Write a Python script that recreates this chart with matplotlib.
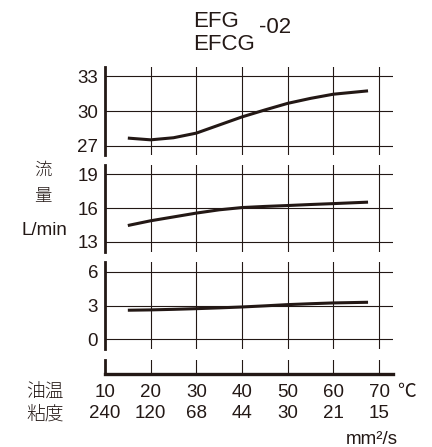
import matplotlib.pyplot as plt
import matplotlib.transforms as mtransforms

# x axis: oil temperature (deg C) and matching viscosity (mm2/s)
temps = [10, 20, 30, 40, 50, 60, 70]
viscosity = ['240', '120', '68', '44', '30', '21', '15']

# flow curves (L/min)
curve_t = [15, 20, 25, 30, 35, 40, 45, 50, 55, 60, 67.6]
flow_top = [27.67, 27.52, 27.7, 28.1, 28.8, 29.5, 30.1, 30.67, 31.1, 31.46, 31.75]
flow_mid = [14.46, 14.88, 15.22, 15.56, 15.85, 16.05, 16.15, 16.23, 16.32, 16.4, 16.53]
flow_low = [2.59, 2.62, 2.67, 2.73, 2.8, 2.88, 2.98, 3.09, 3.17, 3.24, 3.3]

panel_ticks = [[27, 30, 33], [13, 16, 19], [0, 3, 6]]
panel_ylim = [(26.21, 33.81), (12.14, 19.82), (-0.84, 6.89)]
panel_px = [(67, 155), (165, 251.7), (262, 348.7)]

W, H = 432, 447
INK = '#231815'
FONT = ['Liberation Sans', 'Noto Sans CJK JP']
CJK = ['Noto Sans CJK JP']
NUM_SIZE = 13.5
plt.rcParams['font.family'] = FONT

fig = plt.figure(figsize=(W / 100, H / 100), dpi=100)
x_left, x_right = 105, 393
xlim = (10, 70 + (x_right - 379) / 45.67 * 10)


def px_axes(top, bottom):
    return fig.add_axes([x_left / W, 1 - bottom / H, (x_right - x_left) / W, (bottom - top) / H])


def ftext(x, y, s, **kw):
    # y is the baseline, in pixels from the top
    fig.text(x / W, 1 - y / H, s, va='baseline', color=INK, **kw)


for ys, ticks, ylim, (top, bot) in zip([flow_top, flow_mid, flow_low], panel_ticks, panel_ylim, panel_px):
    ax = px_axes(top, bot)
    ax.set_xlim(xlim)
    ax.set_ylim(ylim)
    ax.patch.set_alpha(0)
    for s in ['top', 'right', 'bottom']:
        ax.spines[s].set_visible(False)
    ax.spines['left'].set_linewidth(2)
    ax.spines['left'].set_color(INK)
    for t in temps[1:]:
        ax.axvline(t, color=INK, lw=0.8)
    for v in ticks:
        ax.axhline(v, color=INK, lw=0.8)
    ax.plot(curve_t, ys, color=INK, lw=2.2, solid_capstyle='butt')
    ax.set_xticks([])
    ax.set_yticks(ticks)
    ax.tick_params(axis='y', length=0, pad=5, labelsize=NUM_SIZE, labelcolor=INK)

# bottom scale strip
axb = px_axes(360, 374)
axb.set_xlim(xlim)
axb.set_ylim(0, 1)
axb.patch.set_alpha(0)
for s in ['top', 'right']:
    axb.spines[s].set_visible(False)
axb.spines['left'].set_linewidth(2)
axb.spines['bottom'].set_linewidth(2.4)
axb.spines['left'].set_color(INK)
axb.spines['bottom'].set_color(INK)
for t in temps[1:]:
    axb.axvline(t, color=INK, lw=0.8)
axb.set_xticks([])
axb.set_yticks([])

trans = mtransforms.blended_transform_factory(axb.transData, fig.transFigure)
for t, v in zip(temps, viscosity):
    axb.text(t, 1 - 397 / H, str(t), transform=trans, ha='center', va='baseline',
             fontsize=NUM_SIZE, color=INK, clip_on=False)
    axb.text(t, 1 - 418 / H, v, transform=trans, ha='center', va='baseline',
             fontsize=NUM_SIZE, color=INK, clip_on=False)

ftext(45, 398, '油温', ha='center', fontsize=13.5, family=CJK, fontweight='light')
ftext(45, 419.5, '粘度', ha='center', fontsize=13.5, family=CJK, fontweight='light')
ftext(406, 397, '℃', ha='center', fontsize=NUM_SIZE)
ftext(372, 443.5, 'mm²/s', ha='center', fontsize=NUM_SIZE)

ftext(43, 174.8, '流', ha='center', fontsize=12.5, family=CJK, fontweight='light')
ftext(43, 201.5, '量', ha='center', fontsize=12.5, family=CJK, fontweight='light')
ftext(44, 235, 'L/min', ha='center', fontsize=NUM_SIZE)

# title
ftext(193, 27, 'EFG', ha='left', fontsize=16)
ftext(193, 50, 'EFCG', ha='left', fontsize=16)
ftext(259, 33, '-02', ha='left', fontsize=16)

fig.savefig('out.png', dpi=100)
